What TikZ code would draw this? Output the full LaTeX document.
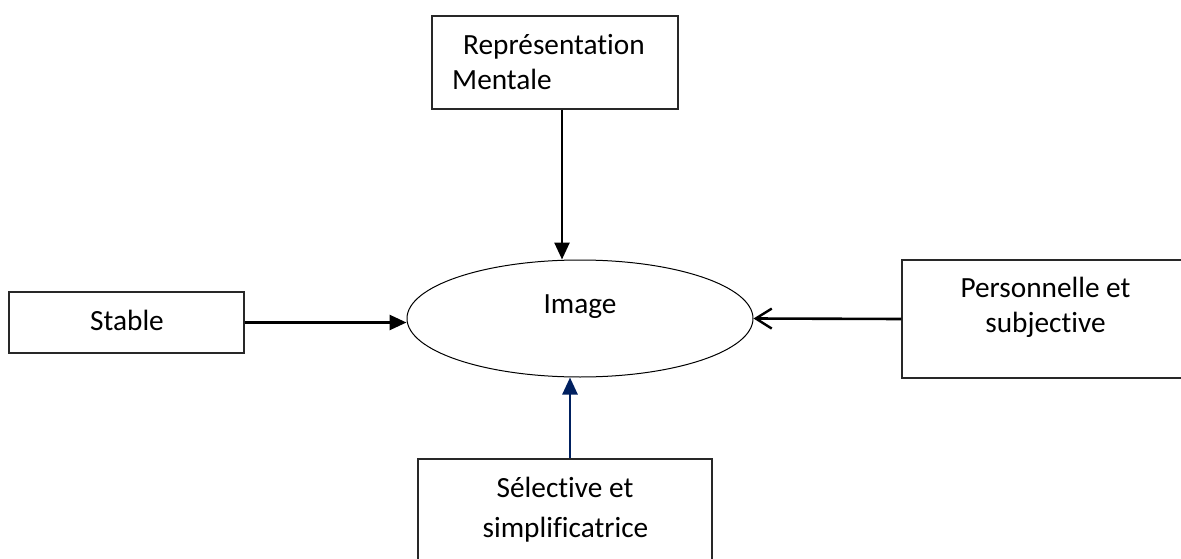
\documentclass[tikz,border=0pt]{standalone}
\usepackage{fontspec}
\setmainfont[Ligatures={NoCommon}]{Carlito}
\usetikzlibrary{arrows.meta,shapes.geometric}
\definecolor{navy}{RGB}{0,32,96}
\definecolor{edge}{RGB}{40,40,40}
\begin{document}
\begin{tikzpicture}[x=1pt,y=-1pt,
  box/.style={draw=edge, line width=1.3pt, rectangle, inner sep=0pt},
  txt/.style={inner sep=0pt, anchor=base, font=\fontsize{29.3}{35}\selectfont},
  txtl/.style={txt, anchor=base west},
  arr/.style={line width=2.6pt, -{Triangle[length=17pt,width=15pt]}},
  openarr/.style={line width=2.6pt, -{Straight Barb[length=16pt,width=20pt,line width=2.4pt]}}
]
\useasboundingbox (0,0) rectangle (1181,559);
\clip (0,0) rectangle (1181,559);
% boxes
\node (topbox) [box, minimum width=246pt, minimum height=93pt] at (555,62.5) {};
\node (stable) [box, minimum width=235pt, minimum height=61pt] at (126.5,322.5) {};
\node (rbox) [box, minimum width=290pt, minimum height=118pt] at (1047,319) {};
\node (botbox) [box, minimum width=294pt, minimum height=120pt] at (565,519) {};
\node (img) [ellipse, draw=black, line width=1pt, minimum width=346pt, minimum height=117pt, inner sep=0pt] at (580,318.5) {};
% texts
\node (t1) [txtl] at (463,55) {Représentation};
\node (t2) [txtl] at (452,90) {Mentale};
\node (t3) [txt] at (127,330) {Stable};
\node (t4) [txt] at (580,313) {Image};
\node (t5) [txt] at (1045.5,297) {Personnelle et};
\node (t6) [txt] at (1045.5,332) {subjective};
\node (t7) [txt] at (565,497) {Sélective et};
\node (t8) [txt] at (565.5,537) {simplificatrice};
% connectors
\coordinate (tx) at (562,0);
\coordinate (bx) at (570,0);
\draw[arr] (topbox.south -| tx) -- (img.north -| tx);
\draw[arr] (stable.east) -- (stable.east -| img.west);
\draw[openarr] (rbox.west) -- (img.east);
\draw[arr, draw=navy, fill=navy] (botbox.north -| bx) -- (img.south -| bx);
\end{tikzpicture}
\end{document}
